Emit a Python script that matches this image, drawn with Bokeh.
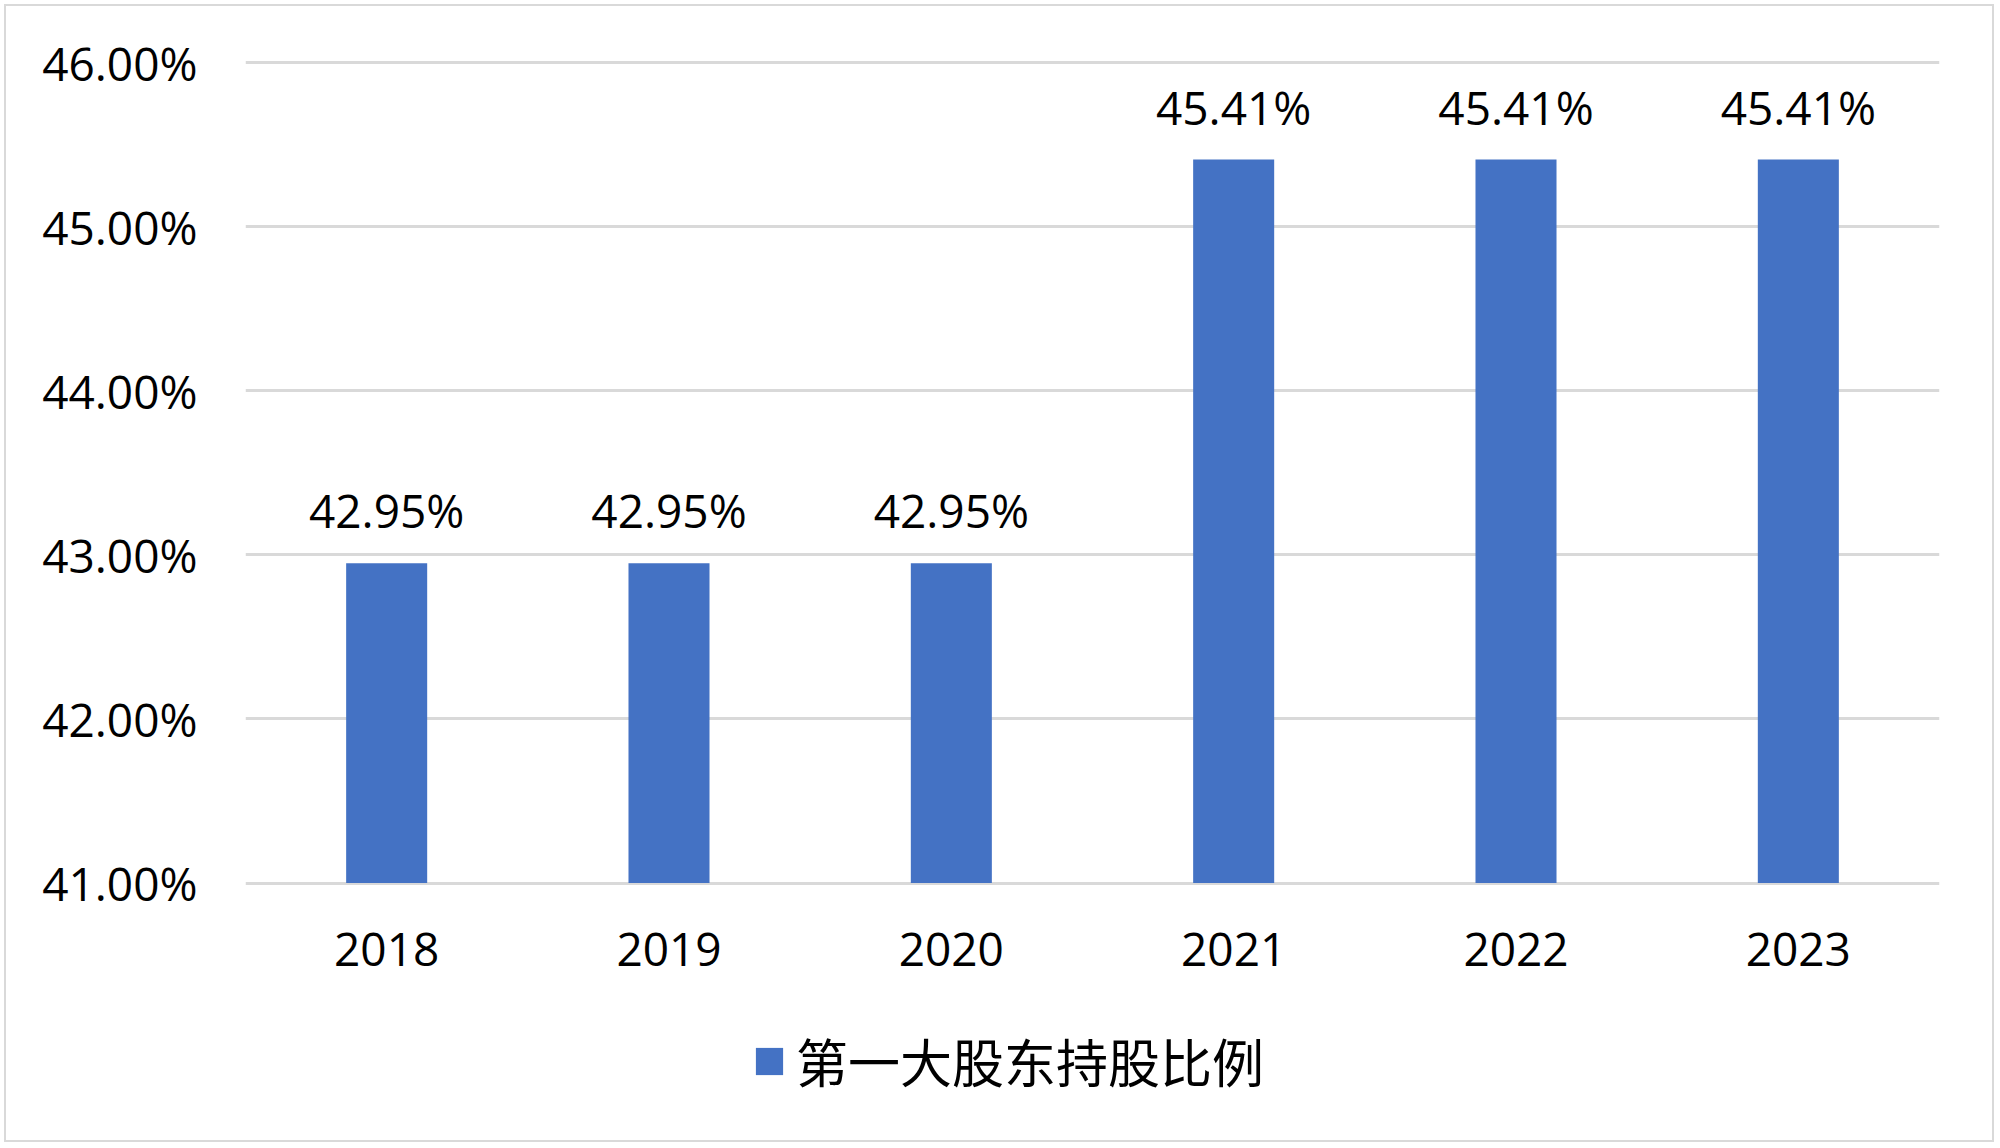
from bokeh.plotting import figure
from bokeh.models import (ColumnDataSource, FactorRange, Range1d, FixedTicker,
                          PrintfTickFormatter, Legend, LegendItem)
from bokeh.core.properties import value
from bokeh.embed import file_html
from bokeh.resources import INLINE

# ---- data ----
years = ["2018", "2019", "2020", "2021", "2022", "2023"]
shares = [42.95, 42.95, 42.95, 45.41, 45.41, 45.41]
share_labels = ["42.95%", "42.95%", "42.95%", "45.41%", "45.41%", "45.41%"]
y_ticks = [41, 42, 43, 44, 45, 46]
series_name = "第一大股东持股比例"

BLUE = "#4472C4"
GRID = "#d9d9d9"
FONT = "Open Sans"
AXIS_MIN = 41

src = ColumnDataSource(dict(year=years, share=shares, label=share_labels))

p = figure(frame_width=1694, frame_height=1071, output_backend="svg", toolbar_location=None,
           x_range=FactorRange(*years, range_padding=0),
           y_range=Range1d(39.4915, 46.02),
           min_border_left=239, min_border_right=53,
           min_border_top=53, min_border_bottom=10)
p.styles = {"border": "2px solid #d9d9d9", "margin": "4px"}
p.outline_line_color = None
p.background_fill_color = "white"
p.border_fill_color = "white"

bars = p.vbar(x="year", top="share", bottom=AXIS_MIN, width=0.287, source=src,
              fill_color=BLUE, line_color=None)

p.text(x="year", y="share", text="label", source=src,
       text_align="center", text_baseline="alphabetic", y_offset=-53,
       text_font=value(FONT), text_font_size="46px", text_color="#000000")

# grid
p.xgrid.grid_line_color = None
p.ygrid.grid_line_color = GRID
p.ygrid.grid_line_width = 3
p.yaxis.ticker = FixedTicker(ticks=y_ticks)
p.yaxis.formatter = PrintfTickFormatter(format="%.2f%%")

for ax in (p.xaxis[0], p.yaxis[0]):
    ax.axis_line_color = None
    ax.major_tick_line_color = None
    ax.minor_tick_line_color = None
    ax.major_label_text_font = FONT
    ax.major_label_text_font_size = "46px"
    ax.major_label_text_color = "#000000"
p.yaxis.major_label_standoff = 42
p.xaxis.major_label_standoff = 44
p.xaxis.fixed_location = AXIS_MIN

legend = Legend(items=[LegendItem(label=series_name, renderers=[bars])],
                location=(507, 32), orientation="horizontal",
                glyph_width=34, glyph_height=34, label_standoff=10,
                label_text_font="Noto Sans CJK SC", label_text_font_size="52px",
                label_text_color="#000000", padding=0, margin=0,
                border_line_color=None, background_fill_alpha=0)
p.add_layout(legend, "center")

open("out.html", "w").write(file_html(p, INLINE))
